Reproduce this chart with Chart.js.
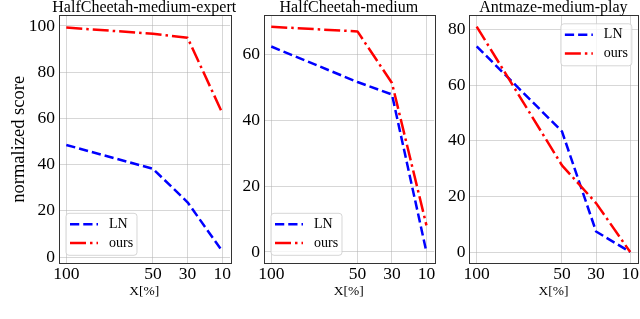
<!DOCTYPE html>
<html>
<head>
<meta charset="utf-8">
<script src="https://cdn.jsdelivr.net/npm/chart.js@4.4.1/dist/chart.umd.min.js"></script>
<style>
  body { margin: 0; background: #fff; }
  #wrap { position: relative; width: 640px; height: 319px; overflow: hidden; }
  canvas { position: absolute; top: 0; }
</style>
</head>
<body>
<div id="wrap">
  <canvas id="c1" width="236" height="319" style="left:0px"></canvas>
  <canvas id="c2" width="204" height="319" style="left:236px"></canvas>
  <canvas id="c3" width="200" height="319" style="left:440px"></canvas>
</div>
<script>
/* ===== data ===== */
const xValues = [100, 50, 30, 10];
const xTickLabels = [100, 50, 30, 10];

const titles = ["HalfCheetah-medium-expert", "HalfCheetah-medium", "Antmaze-medium-play"];
const seriesNames = ["LN", "ours"];

const hcmeLN   = [48.5, 38.2, 23.7, 2.6];
const hcmeOurs = [99.3, 96.6, 94.9, 62.4];

const hcmLN    = [62.5, 51.7, 47.9, 0.0];
const hcmOurs  = [68.5, 67.1, 51.4, 8.1];

const amLN     = [74.0, 43.4, 7.4, 0.0];
const amOurs   = [81.1, 31.2, 17.6, 0.0];

const yTicks1 = [0, 20, 40, 60, 80, 100];
const yTicks2 = [0, 20, 40, 60];
const yTicks3 = [0, 20, 40, 60, 80];

/* ===== plugins ===== */
// axes box (all four spines)
const frame = {
  id: "frame",
  afterDatasetsDraw(chart) {
    const {ctx, chartArea: a} = chart;
    ctx.save();
    ctx.strokeStyle = "#333";
    ctx.lineWidth = 1;
    ctx.strokeRect(Math.round(a.left) + 0.5, Math.round(a.top) + 0.5,
      Math.round(a.right - a.left), Math.round(a.bottom - a.top));
    ctx.restore();
  }
};

// title centred over the plot area, not the canvas
const panelTitle = {
  id: "panelTitle",
  afterDraw(chart, args, opts) {
    const {ctx, chartArea: a} = chart;
    ctx.save();
    ctx.fillStyle = "#000";
    ctx.font = '16px "Liberation Serif"';
    ctx.textAlign = "center";
    ctx.textBaseline = "alphabetic";
    ctx.fillText(opts.text, (a.left + a.right) / 2, 12);
    ctx.restore();
  }
};

// legend box drawn inside the plot area
const insideLegend = {
  id: "insideLegend",
  afterDatasetsDraw(chart, args, opts) {
    const {ctx, chartArea: a} = chart;
    const w = 71, h = 42;
    const upper = opts.corner === "upperRight";
    const x0 = upper ? a.right - 6 - w : a.left + 7.5;
    const y0 = upper ? a.top + 8.5 : a.bottom - 8 - h;
    ctx.save();
    ctx.beginPath();
    ctx.roundRect(x0, y0, w, h, 3);
    ctx.fillStyle = "rgba(255,255,255,0.8)";
    ctx.fill();
    ctx.strokeStyle = "rgba(204,204,204,0.8)";
    ctx.lineWidth = 1;
    ctx.stroke();
    chart.data.datasets.forEach((ds, i) => {
      const y = y0 + 11 + i * 18.7;
      ctx.setLineDash(ds.borderDash);
      ctx.strokeStyle = ds.borderColor;
      ctx.lineWidth = ds.borderWidth;
      ctx.beginPath();
      ctx.moveTo(x0 + 4, y);
      ctx.lineTo(x0 + 32, y);
      ctx.stroke();
      ctx.setLineDash([]);
      ctx.fillStyle = "#000";
      ctx.font = '14px "Liberation Serif"';
      ctx.textBaseline = "middle";
      ctx.fillText(ds.label, x0 + 43, y);
    });
    ctx.restore();
  }
};

Chart.defaults.font.family = '"Liberation Serif", "Times New Roman", serif';
Chart.defaults.color = "#000";

function points(vals) {
  return xValues.map((x, i) => ({x: x, y: vals[i]}));
}

function makePanel(id, title, ln, ours, yMin, yMax, yTicks, p) {
  new Chart(document.getElementById(id), {
    type: "line",
    data: {
      datasets: [
        {
          label: seriesNames[0],
          data: points(ln),
          borderColor: "#0000ff",
          borderWidth: 2.5,
          borderDash: [9.25, 4],
          pointRadius: 0,
          borderJoinStyle: "round",
          order: 1
        },
        {
          label: seriesNames[1],
          data: points(ours),
          borderColor: "#ff0000",
          borderWidth: 2.5,
          borderDash: [16, 4, 2.5, 4],
          pointRadius: 0,
          borderJoinStyle: "round",
          order: 0
        }
      ]
    },
    options: {
      responsive: false,
      animation: false,
      layout: { padding: { left: 0, right: p.right, top: 15.3, bottom: 19 } },
      plugins: {
        legend: { display: false },
        tooltip: { enabled: false },
        title: { display: false },
        panelTitle: { text: title },
        insideLegend: { corner: p.corner }
      },
      scales: {
        x: {
          type: "linear",
          reverse: true,
          min: 5.5,
          max: 104.5,
          afterBuildTicks: s => { s.ticks = xTickLabels.map(v => ({value: v})); },
          afterFit: s => { s.height = 36.7; },
          ticks: { font: { size: 17.5 }, padding: 1, maxRotation: 0, autoSkip: false },
          grid: { color: "rgba(176,176,176,0.5)", drawTicks: false },
          border: { display: false },
          title: { display: true, text: "X[%]", font: { size: 13.5 }, padding: 0 }
        },
        y: {
          min: yMin,
          max: yMax,
          afterBuildTicks: s => { s.ticks = yTicks.map(v => ({value: v})); },
          afterFit: s => { s.width = p.yWidth; },
          ticks: { font: { size: 17.5 }, padding: 3.5 },
          grid: { color: "rgba(176,176,176,0.5)", drawTicks: false },
          border: { display: false },
          title: {
            display: !!p.yTitle,
            text: p.yTitle || "",
            font: { size: 18.5 },
            padding: { top: 8, bottom: 0 }
          }
        }
      }
    },
    plugins: [frame, insideLegend, panelTitle]
  });
}

makePanel("c1", titles[0], hcmeLN, hcmeOurs, -2.7, 104.6, yTicks1,
  { right: 6, yWidth: 58.5, corner: "lowerLeft", yTitle: "normalized score" });
makePanel("c2", titles[1], hcmLN, hcmOurs, -3.45, 72.0, yTicks2,
  { right: 5.8, yWidth: 27.5, corner: "lowerLeft" });
makePanel("c3", titles[2], amLN, amOurs, -4.05, 85.15, yTicks3,
  { right: 1.5, yWidth: 29, corner: "upperRight" });
</script>
</body>
</html>
